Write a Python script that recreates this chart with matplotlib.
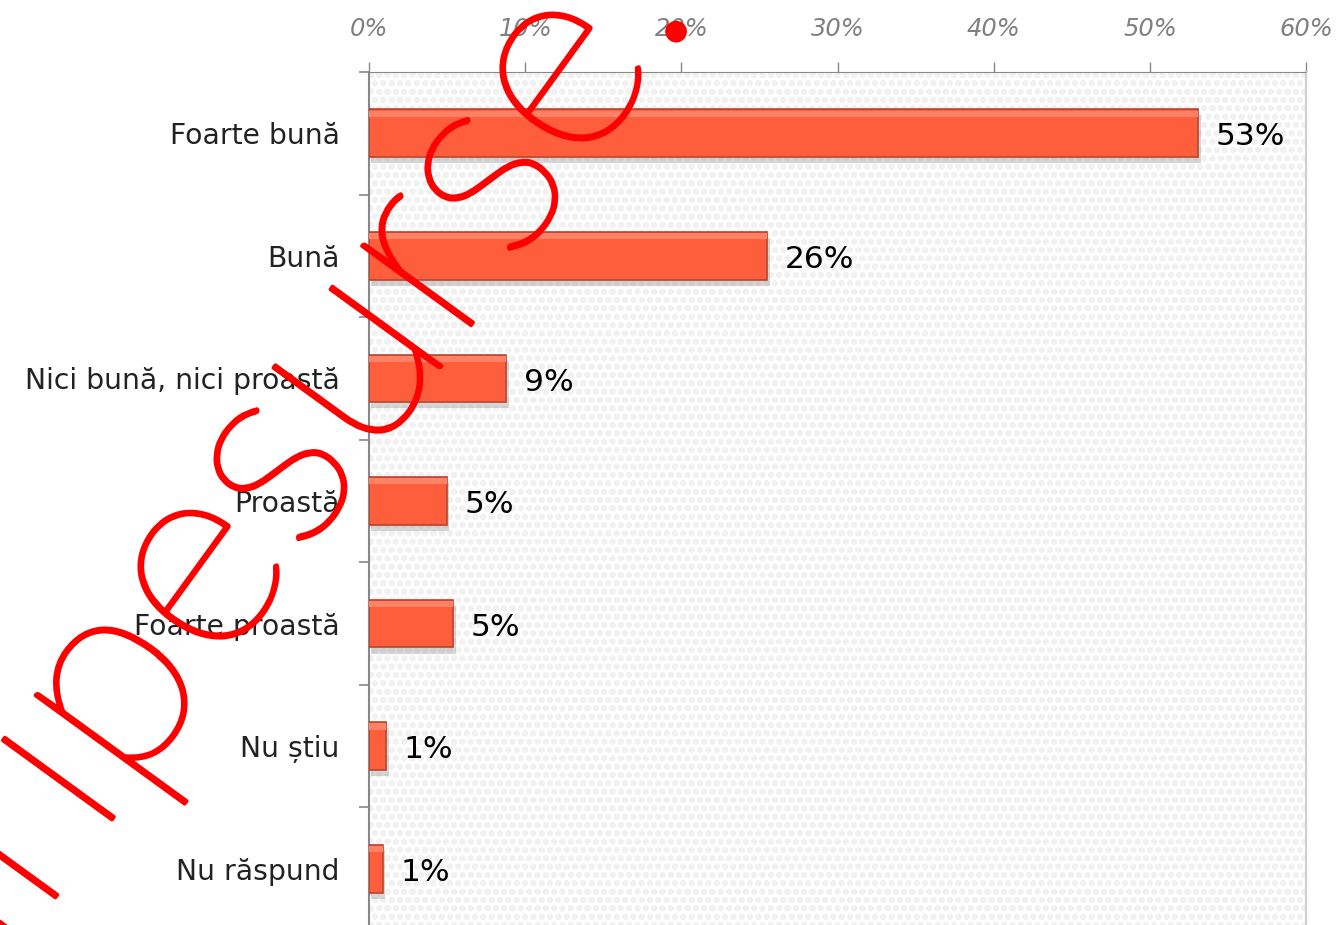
import matplotlib
matplotlib.use("Agg")
import matplotlib.pyplot as plt
import matplotlib.patheffects as pe
from matplotlib.patches import Rectangle

categories = ["Foarte bună", "Bună", "Nici bună, nici proastă", "Proastă",
              "Foarte proastă", "Nu știu", "Nu răspund"]
values = [53.1, 25.5, 8.8, 5.0, 5.4, 1.1, 0.9]
labels = ["53%", "26%", "9%", "5%", "5%", "1%", "1%"]
xticks = [0, 10, 20, 30, 40, 50, 60]

plt.rcParams["hatch.linewidth"] = 2.0
fig = plt.figure(figsize=(13.4, 9.25), dpi=100)
ax = fig.add_axes([0.2754, -0.0054, 0.6993, 0.9276])

# patterned background
bg = Rectangle((0, 0), 1, 1, transform=ax.transAxes, facecolor="white",
               edgecolor="#f1f1f1", hatch="oo", linewidth=0, zorder=0)
ax.add_patch(bg)

y = list(range(len(categories)))
h = 0.39
# shadow
ax.barh([i + 0.05 for i in y], values, height=h, left=0.15, color="#8a8a8a",
        alpha=0.35, zorder=2)
ax.barh(y, values, height=h, color="#FF5E3D", edgecolor="#B5452E",
        linewidth=1.2, zorder=3)
# top highlight strip
ax.barh([i - h / 2 + 0.035 for i in y], values, height=0.05, color="#FF8266",
        linewidth=0, zorder=4)

for i, (v, lab) in enumerate(zip(values, labels)):
    ax.text(v + 1.1, i + 0.03, lab, va="center", ha="left", fontsize=22.5,
            color="black", zorder=5)

ax.set_xlim(0, 60)
ax.set_ylim(6.5, -0.5)
ax.xaxis.tick_top()
ax.set_xticks(xticks)
ax.set_xticklabels([f"{t}%" for t in xticks], fontsize=17.5, style="italic",
                   color="#808080")
ax.tick_params(axis="x", length=7, width=1, color="#888888", pad=15)
for t in ax.xaxis.get_ticklines():
    t.set_linestyle((0, (1, 1)))

ax.set_yticks(y)
ax.set_yticklabels(categories, fontsize=20.3, color="#222222")
ax.set_yticks([i + 0.5 for i in range(-1, len(categories))], minor=True)
ax.tick_params(axis="y", which="major", length=0, pad=21)
ax.tick_params(axis="y", which="minor", length=7, width=1.2, color="#888888")

ax.spines["top"].set_linestyle((0, (1, 1)))
ax.spines["top"].set_color("#888888")
ax.spines["left"].set_color("#888888")
ax.spines["left"].set_linewidth(1.5)
ax.spines["right"].set_color("#cfcfcf")
ax.spines["right"].set_linewidth(1.5)
ax.spines["bottom"].set_visible(False)
ax.set_facecolor("white")

# watermark
fig.text(-0.085, -0.222, "stiripesurse.ro", rotation=54, rotation_mode="anchor",
         ha="left", va="baseline", fontsize=198, color="red",
         family=["Lato", "DejaVu Sans"], fontweight=100, zorder=10,
         path_effects=[pe.withStroke(linewidth=2.8, foreground="red")])

fig.savefig("out.png", dpi=100)
